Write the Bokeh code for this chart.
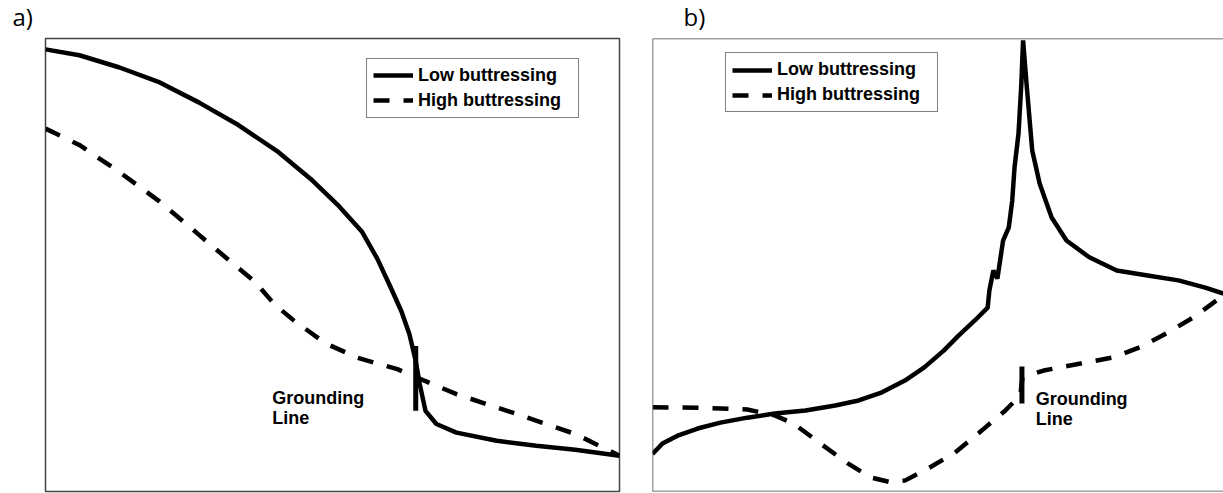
from bokeh.plotting import figure
from bokeh.layouts import row, column
from bokeh.models import Range1d, Legend, LegendItem, Label, Span
from bokeh.core.properties import value
from bokeh.embed import file_html
from bokeh.resources import INLINE

# ---------------- Panel a data (normalised distance / value) ----------------
a_low_x = [0, 5.9, 12.9, 19.9, 26.7, 33.6, 40.6, 46.2, 50.9, 55.1, 57.8, 59.9,
           62.0, 63.4, 64.5, 65.2, 66.2, 68.1, 71.6, 78.6, 85.5, 92.3, 100]
a_low_y = [97.6, 96.3, 93.6, 90.3, 85.9, 80.9, 74.9, 69.0, 63.3, 57.4, 51.4, 45.7,
           39.8, 34.7, 28.8, 23.7, 17.8, 14.9, 13.0, 11.2, 10.1, 9.2, 7.9]
a_high_x = [0, 5.9, 12.9, 19.9, 26.7, 32.2, 36.4, 39.9, 43.4, 48.8, 54.4, 61.3,
            64.8, 71.6, 82.1, 92.3, 100]
a_high_y = [80.1, 76.5, 70.5, 64.0, 56.7, 50.8, 46.4, 41.3, 37.6, 32.7, 29.5, 27.0,
            25.1, 21.5, 17.1, 12.7, 7.9]
a_gl_x = 64.5
a_gl_y = [17.8, 32.1]

# ---------------- Panel b data ----------------
b_low_x = [0, 1.75, 4.55, 7.9, 11.9, 16.6, 21.4, 26.8, 32.0, 36.1, 40.2, 44.2,
           47.6, 51.0, 53.6, 56.4, 58.7, 59.0, 59.7, 60.4, 61.4, 62.4, 63.0,
           63.4, 64.1, 64.6, 64.9, 65.5, 66.5, 67.8, 69.9, 72.5, 76.5, 81.3,
           86.7, 92.1, 96.8, 100]
b_low_y = [8.3, 10.6, 12.4, 13.9, 15.2, 16.3, 17.2, 17.9, 19.0, 20.1, 21.9, 24.5,
           27.4, 31.1, 34.4, 37.7, 40.6, 44.4, 48.8, 47.0, 55.4, 58.3, 64.2,
           71.5, 79.0, 90.1, 99.6, 90.1, 75.3, 68.0, 60.5, 55.4, 51.7, 48.8,
           47.7, 46.6, 45.0, 43.7]
b_high_x = [0, 7.9, 16.6, 21.4, 24.7, 29.4, 34.2, 38.2, 41.5, 44.2, 48.3, 53.0,
            57.7, 61.8, 64.4, 64.8, 68.5, 75.2, 80.6, 85.3, 90.0, 94.7, 100]
b_high_y = [18.6, 18.5, 18.1, 16.8, 15.0, 10.6, 6.2, 3.1, 2.1, 2.4, 5.1, 8.6,
            13.5, 17.9, 21.2, 25.2, 26.7, 28.3, 29.6, 31.8, 34.9, 38.4, 43.3]
b_gl_x = 64.7
b_gl_y = [19.4, 27.6]

labels = ["Low buttressing", "High buttressing"]
gl_text = ["Grounding", "Line"]
panel_tags = ["a)", "b)"]

FONT = "Liberation Sans"
LW = 4.5
DASH = "16 14"
FRAME = "#444444"


def base_fig(width, mb_left, mb_right, mb_top):
    p = figure(width=width, height=458, output_backend="svg", toolbar_location=None,
               x_range=Range1d(0, 100), y_range=Range1d(0, 100),
               x_axis_location=None, y_axis_location=None,
               min_border_left=mb_left, min_border_right=mb_right,
               min_border_top=mb_top, min_border_bottom=2)
    p.grid.visible = False
    p.background_fill_color = "white"
    p.border_fill_color = "white"
    return p


def add_legend(p, r1, r2, loc):
    leg = Legend(items=[LegendItem(label=labels[0], renderers=[r1]),
                        LegendItem(label=labels[1], renderers=[r2])],
                 location=loc, margin=0, padding=6, spacing=4,
                 glyph_width=40, glyph_height=20, label_height=20,
                 label_standoff=5, label_width=154,
                 border_line_color="black", border_line_width=1.5,
                 background_fill_alpha=1.0,
                 label_text_font=FONT, label_text_font_style="bold",
                 label_text_font_size="18px", label_text_color="black")
    p.add_layout(leg)


def add_gl_text(p, x, y1, y2):
    for t, yy in zip(gl_text, [y1, y2]):
        p.add_layout(Label(x=x, y=yy, text=t, text_font=FONT, text_font_style="bold",
                           text_font_size="18px", text_baseline="alphabetic",
                           text_color="black"))


# ---------------- Header strip with panel tags (pixel coordinates) ----------------
strip = figure(width=1223, height=35, output_backend="svg", toolbar_location=None,
               x_range=Range1d(0, 1223), y_range=Range1d(35, 0),
               x_axis_location=None, y_axis_location=None,
               min_border_left=0, min_border_right=0, min_border_top=0,
               min_border_bottom=0)
strip.grid.visible = False
strip.outline_line_color = None
strip.text(x=[12, 683], y=[16, 16], text=panel_tags, text_font=value("Open Sans"),
           text_font_size="24px", text_baseline="alphabetic", text_align="left",
           text_color="black")

# ---------------- Panel a ----------------
pa = base_fig(636, 45, 17, 1)
pa.outline_line_color = FRAME
pa.outline_line_width = 1.5
r1 = pa.line(a_low_x, a_low_y, line_color="black", line_width=LW)
r2 = pa.line(a_high_x, a_high_y, line_color="black", line_width=LW, line_dash=DASH)
pa.segment(x0=[a_gl_x], y0=[a_gl_y[0]], x1=[a_gl_x], y1=[a_gl_y[1]],
           line_color="black", line_width=5)
add_legend(pa, r1, r2, (321, 373.5))
add_gl_text(pa, 39.5, 20.7, 16.3)

# ---------------- Panel b ----------------
pb = base_fig(587, 16, 0, 3)
pb.outline_line_color = None
for loc, dim in [(0, "height"), (0, "width"), (100, "width")]:
    pb.add_layout(Span(location=loc, dimension=dim, line_color=FRAME, line_width=1.5))
s1 = pb.line(b_low_x, b_low_y, line_color="black", line_width=LW)
s2 = pb.line(b_high_x, b_high_y, line_color="black", line_width=LW, line_dash=DASH)
pb.segment(x0=[b_gl_x], y0=[b_gl_y[0]], x1=[b_gl_x], y1=[b_gl_y[1]],
           line_color="black", line_width=5)
add_legend(pb, s1, s2, (73, 379))
add_gl_text(pb, 67.1, 20.5, 16.1)

layout = column(strip, row(pa, pb, spacing=0), spacing=0)
open("out.html", "w").write(file_html(layout, INLINE))
